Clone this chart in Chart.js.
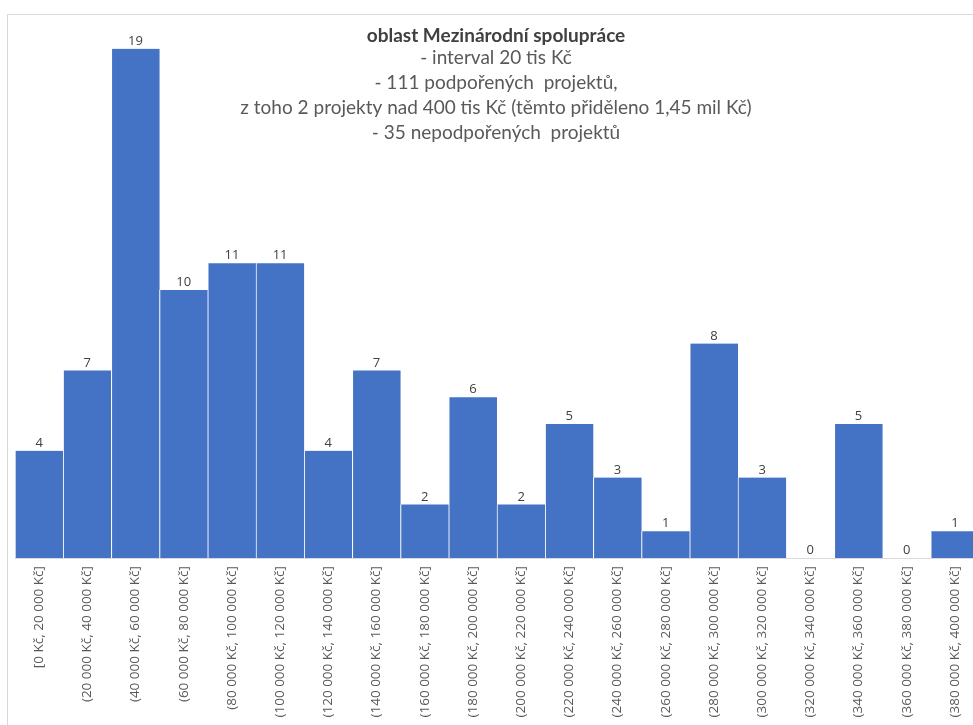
<!DOCTYPE html>
<html>
<head>
<meta charset="utf-8">
<script src="https://cdn.jsdelivr.net/npm/chart.js@4/dist/chart.umd.min.js"></script>
<style>
  html, body { margin: 0; padding: 0; background: #fff; overflow: hidden; }
  body { width: 973px; height: 725px; position: relative; }
  #frame { position: absolute; left: 7px; top: 14px; width: 990px; height: 720px;
           border: 1px solid #d9d9d9; box-sizing: border-box; }
  #wrap { position: absolute; left: 0; top: 0; width: 980px; height: 711px; }
</style>
</head>
<body>
<div id="frame"><div id="wrap"><canvas id="c"></canvas></div></div>
<script>
// Histogram of grant amounts, 20 000 Kč bins
const categories = [
  "[0 Kč, 20 000 Kč]",
  "(20 000 Kč, 40 000 Kč]",
  "(40 000 Kč, 60 000 Kč]",
  "(60 000 Kč, 80 000 Kč]",
  "(80 000 Kč, 100 000 Kč]",
  "(100 000 Kč, 120 000 Kč]",
  "(120 000 Kč, 140 000 Kč]",
  "(140 000 Kč, 160 000 Kč]",
  "(160 000 Kč, 180 000 Kč]",
  "(180 000 Kč, 200 000 Kč]",
  "(200 000 Kč, 220 000 Kč]",
  "(220 000 Kč, 240 000 Kč]",
  "(240 000 Kč, 260 000 Kč]",
  "(260 000 Kč, 280 000 Kč]",
  "(280 000 Kč, 300 000 Kč]",
  "(300 000 Kč, 320 000 Kč]",
  "(320 000 Kč, 340 000 Kč]",
  "(340 000 Kč, 360 000 Kč]",
  "(360 000 Kč, 380 000 Kč]",
  "(380 000 Kč, 400 000 Kč]"
];
const counts = [4, 7, 19, 10, 11, 11, 4, 7, 2, 6, 2, 5, 3, 1, 8, 3, 0, 5, 0, 1];
const titleLines = [
  "oblast Mezinárodní spolupráce",
  "- interval 20 tis Kč",
  "- 111 podpořených  projektů,",
  "z toho 2 projekty nad 400 tis Kč (těmto přiděleno 1,45 mil Kč)",
  "- 35 nepodpořených  projektů"
];

// Value labels above each bar
const valueLabels = {
  id: 'valueLabels',
  afterDatasetsDraw(chart) {
    const ctx = chart.ctx;
    const meta = chart.getDatasetMeta(0);
    ctx.save();
    ctx.font = '13px "Open Sans", sans-serif';
    ctx.fillStyle = '#404040';
    ctx.textAlign = 'center';
    ctx.textBaseline = 'bottom';
    meta.data.forEach((bar, i) => {
      ctx.fillText(String(counts[i]), bar.x, bar.y - 1);
    });
    ctx.restore();
  }
};

// Multi-line heading laid over the plot
const overlayTitle = {
  id: 'overlayTitle',
  afterDraw(chart) {
    const ctx = chart.ctx;
    ctx.save();
    ctx.textAlign = 'center';
    ctx.textBaseline = 'middle';
    const cx = 488;
    const ys = [21, 43, 68, 93, 118];
    titleLines.forEach((t, i) => {
      ctx.font = (i === 0 ? 'bold ' : '') + '19px Lato, sans-serif';
      ctx.fillStyle = i === 0 ? '#404040' : '#595959';
      ctx.fillText(t, cx, ys[i]);
    });
    ctx.restore();
  }
};

new Chart(document.getElementById('c'), {
  type: 'bar',
  data: {
    labels: categories,
    datasets: [{
      data: counts,
      backgroundColor: '#4472C4',
      borderColor: '#ffffff',
      borderWidth: { left: 1, right: 0, top: 0, bottom: 0 },
      borderSkipped: false,
      barPercentage: 1.0,
      categoryPercentage: 1.0
    }]
  },
  options: {
    responsive: true,
    maintainAspectRatio: false,
    animation: false,
    layout: { padding: { left: 7, right: 9, top: 7, bottom: 0 } },
    plugins: { legend: { display: false }, tooltip: { enabled: false }, title: { display: false } },
    scales: {
      x: {
        grid: { display: false, drawTicks: false },
        border: { display: true, color: '#d9d9d9', width: 1 },
        ticks: {
          color: '#595959',
          font: { family: '"Open Sans", sans-serif', size: 13.5 },
          maxRotation: 90, minRotation: 90,
          autoSkip: false,
          padding: 8
        },
        afterFit(scale) { scale.height = 168; }
      },
      y: {
        display: false,
        min: 0, max: 20
      }
    }
  },
  plugins: [valueLabels, overlayTitle]
});
</script>
</body>
</html>
